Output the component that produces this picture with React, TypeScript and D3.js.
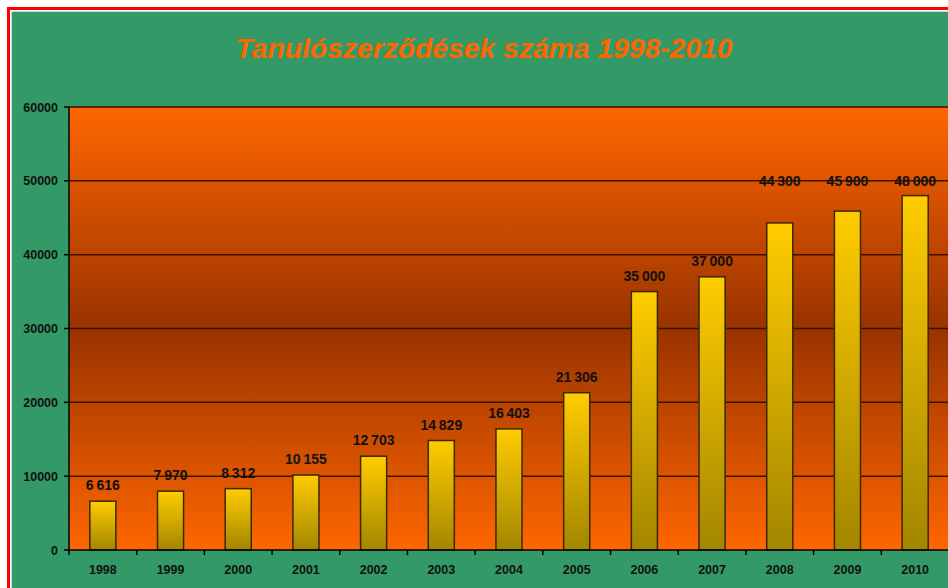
import React from 'react';
import * as d3 from 'd3';

// values
const years = ['1998', '1999', '2000', '2001', '2002', '2003', '2004', '2005', '2006', '2007', '2008', '2009', '2010'];
const contracts = [6616, 7970, 8312, 10155, 12703, 14829, 16403, 21306, 35000, 37000, 44300, 45900, 48000];
const yTicks = [0, 10000, 20000, 30000, 40000, 50000, 60000];
const title = 'Tanulószerződések száma 1998-2010';

const W = 948;
const H = 588;
const margin = { top: 107, left: 69, bottom: 38, right: -1 };
const font = '"Liberation Sans", Arial, sans-serif';

const huFormat = d3.formatLocale({ decimal: ',', thousands: '\u2009', grouping: [3], currency: ['', ' Ft'] }).format(',d');

export default function App() {
  const plotBottom = H - margin.bottom;
  const x = d3.scaleBand<string>()
    .domain(years)
    .range([margin.left, W - margin.right])
    .padding(0);
  const y = d3.scaleLinear()
    .domain([0, 60000])
    .range([550, margin.top]);

  const barW = x.bandwidth() * 0.385;
  const maxV = d3.max(contracts) as number;

  return (
    <svg width={W} height={H} style={{ position: 'absolute', left: 0, top: 0, background: '#fff' }}>
      <defs>
        <linearGradient id="plotBg" x1="0" y1="0" x2="0" y2="1">
          <stop offset="0" stopColor="#FF6600" />
          <stop offset="0.5" stopColor="#993300" />
          <stop offset="1" stopColor="#FF6600" />
        </linearGradient>
        <linearGradient id="barFill" x1="0" y1="0" x2="0" y2="1">
          <stop offset="0" stopColor="#FFCC00" />
          <stop offset="1" stopColor="#A38600" />
        </linearGradient>
      </defs>

      {/* outer frame */}
      <rect x={8.5} y={8.5} width={W + 20} height={H + 20} fill="#fff" stroke="#FF0000" strokeWidth={3} />
      <rect x={11.5} y={11.5} width={W + 20} height={H + 20} fill="#339966" stroke="#d8d8d8" strokeWidth={1} />

      <text x={484} y={58} textAnchor="middle" fontFamily={font} fontSize={28} fontWeight="bold"
        fontStyle="italic" fill="#FF6600" textLength={497} lengthAdjust="spacingAndGlyphs">{title}</text>

      {/* plot area */}
      <rect x={margin.left} y={y(60000)} width={W - margin.right - margin.left} height={y(0) - y(60000)} fill="url(#plotBg)" />

      {yTicks.filter(t => t > 0).map(t => (
        <line key={t} x1={margin.left} x2={W} y1={y(t)} y2={y(t)} stroke="#3a1400" strokeWidth={1.5} />
      ))}

      {contracts.map((v, i) => {
        const cx = (x(years[i]) as number) + x.bandwidth() / 2;
        return (
          <rect key={years[i]} x={cx - barW / 2} y={y(v)} width={barW} height={y(0) - y(v)}
            fill="url(#barFill)" stroke="#3a2800" strokeWidth={1.5} />
        );
      })}

      {contracts.map((v, i) => {
        const cx = (x(years[i]) as number) + x.bandwidth() / 2;
        // the top labels sit in one row with the tallest bar
        const ly = v > 40000 ? y(maxV) - 10 : y(v) - 11;
        return (
          <text key={years[i]} x={cx} y={ly} textAnchor="middle" fontFamily={font} fontSize={14}
            fontWeight="bold" fill="#111">{huFormat(v)}</text>
        );
      })}

      {/* axes */}
      <line x1={margin.left} x2={margin.left} y1={y(60000)} y2={y(0)} stroke="#000" strokeWidth={1.5} />
      <line x1={margin.left} x2={W} y1={y(0)} y2={y(0)} stroke="#000" strokeWidth={1.5} />
      {yTicks.map(t => (
        <g key={t}>
          <line x1={margin.left - 5} x2={margin.left} y1={y(t)} y2={y(t)} stroke="#000" strokeWidth={1.5} />
          <text x={58} y={y(t) + 4.5} textAnchor="end" fontFamily={font} fontSize={12.5} fontWeight="bold" fill="#111">{t}</text>
        </g>
      ))}
      {years.map(yr => (
        <g key={yr}>
          <line x1={x(yr) as number} x2={x(yr) as number} y1={y(0)} y2={y(0) + 5} stroke="#000" strokeWidth={1.5} />
          <text x={(x(yr) as number) + x.bandwidth() / 2} y={plotBottom + 24} textAnchor="middle" fontFamily={font}
            fontSize={12.5} fontWeight="bold" fill="#111">{yr}</text>
        </g>
      ))}
    </svg>
  );
}
